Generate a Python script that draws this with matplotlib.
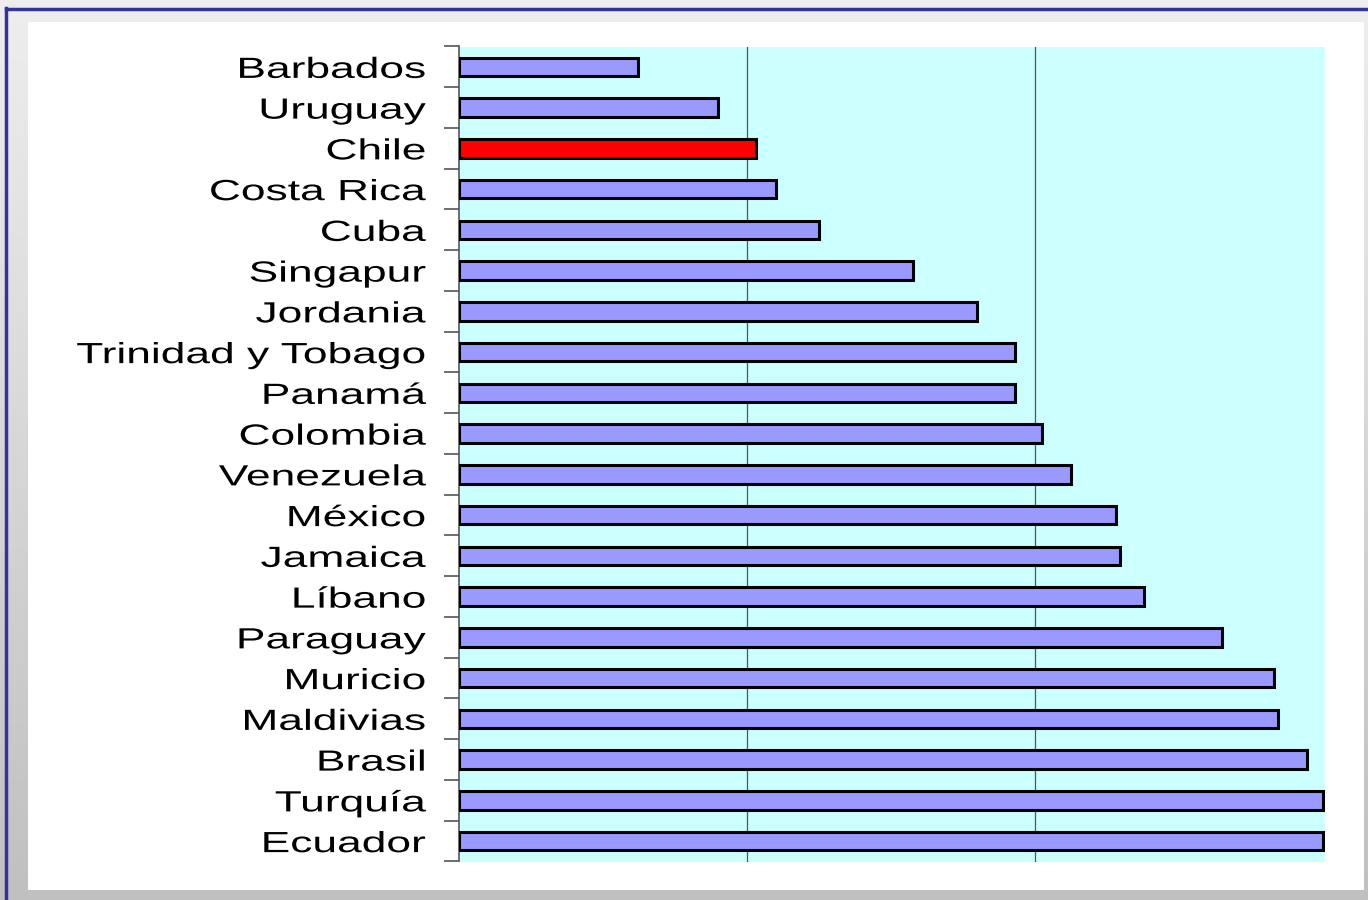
import matplotlib
matplotlib.use("Agg")
import matplotlib.pyplot as plt
import numpy as np
from matplotlib.patches import Rectangle
from matplotlib.lines import Line2D
from matplotlib.patheffects import AbstractPathEffect
from matplotlib.transforms import Affine2D

countries = ["Barbados", "Uruguay", "Chile", "Costa Rica", "Cuba", "Singapur", "Jordania",
             "Trinidad y Tobago", "Panamá", "Colombia", "Venezuela", "México", "Jamaica",
             "Líbano", "Paraguay", "Muricio", "Maldivias", "Brasil", "Turquía", "Ecuador"]
values = [6.2, 9.0, 10.3, 11.0, 12.5, 15.75, 18.0, 19.3, 19.3, 20.25, 21.25, 22.8, 22.95,
          23.8, 26.5, 28.3, 28.45, 29.45, 30.0, 30.0]
highlight = "Chile"


class StretchX(AbstractPathEffect):
    """Stretch text horizontally, keeping its right edge fixed."""
    def __init__(self, sx):
        super().__init__()
        self.sx = sx

    def draw_path(self, renderer, gc, tpath, affine, rgbFace=None):
        ext = tpath.get_extents()
        xr = ext.x1
        pre = Affine2D().translate(-xr, 0).scale(self.sx, 1).translate(xr, 0)
        renderer.draw_path(gc, tpath, pre + affine, rgbFace)


W, H = 1368, 900
fig = plt.figure(figsize=(W / 100, H / 100), dpi=100)

# background gradient
bg = fig.add_axes([0, 0, 1, 1], zorder=-10)
grad = np.linspace(0, 1, 256).reshape(-1, 1)
top = np.array([0xee, 0xee, 0xee]) / 255
bot = np.array([0xc0, 0xc0, 0xc0]) / 255
img = top[None, None, :] * (1 - grad[:, :, None]) + bot[None, None, :] * grad[:, :, None]
bg.imshow(img, aspect="auto", extent=[0, 1, 0, 1], origin="upper")
bg.set_xlim(0, 1)
bg.set_ylim(0, 1)
bg.axis("off")
bg.add_patch(Rectangle((28 / W, 1 - 890 / H), (1364 - 28) / W, (890 - 22) / H,
                       facecolor="white", edgecolor="none"))
bg.add_line(Line2D([6 / W, 6 / W], [0, 1 - 8 / H], color="#333399", lw=2.5))
bg.add_line(Line2D([6 / W, 1], [1 - 8.5 / H, 1 - 8.5 / H], color="#333399", lw=2.5))

ax = fig.add_axes([459 / W, 1 - 861.5 / H, (1325 - 459) / W, (861.5 - 46.5) / H])
ax.set_facecolor("#ccffff")
y = np.arange(len(countries))
colors = ["#ff0000" if c == highlight else "#9999ff" for c in countries]
ax.barh(y, values, height=0.45, color=colors, edgecolor="black", linewidth=2.2, zorder=3)
ax.set_xlim(0, 30.07)
ax.set_ylim(len(countries) - 0.5, -0.5)
ax.set_xticks([10, 20])
ax.xaxis.grid(True, color="#555555", lw=0.9, zorder=1)
ax.tick_params(axis="x", length=0, labelbottom=False)
ax.set_yticks(y)
ax.set_yticklabels(countries, fontsize=21, family="Liberation Sans")
for lab in ax.get_yticklabels():
    lab.set_path_effects([StretchX(1.52)])
ax.set_yticks(np.arange(len(countries) + 1) - 0.5, minor=True)
ax.tick_params(axis="y", which="major", length=0, pad=24)
ax.tick_params(axis="y", which="minor", length=11, width=1.2, color="#555555")
for s in ["top", "right", "bottom"]:
    ax.spines[s].set_visible(False)
ax.spines["left"].set_color("#555555")
ax.spines["left"].set_linewidth(1.2)

fig.savefig("out.png", dpi=100)
